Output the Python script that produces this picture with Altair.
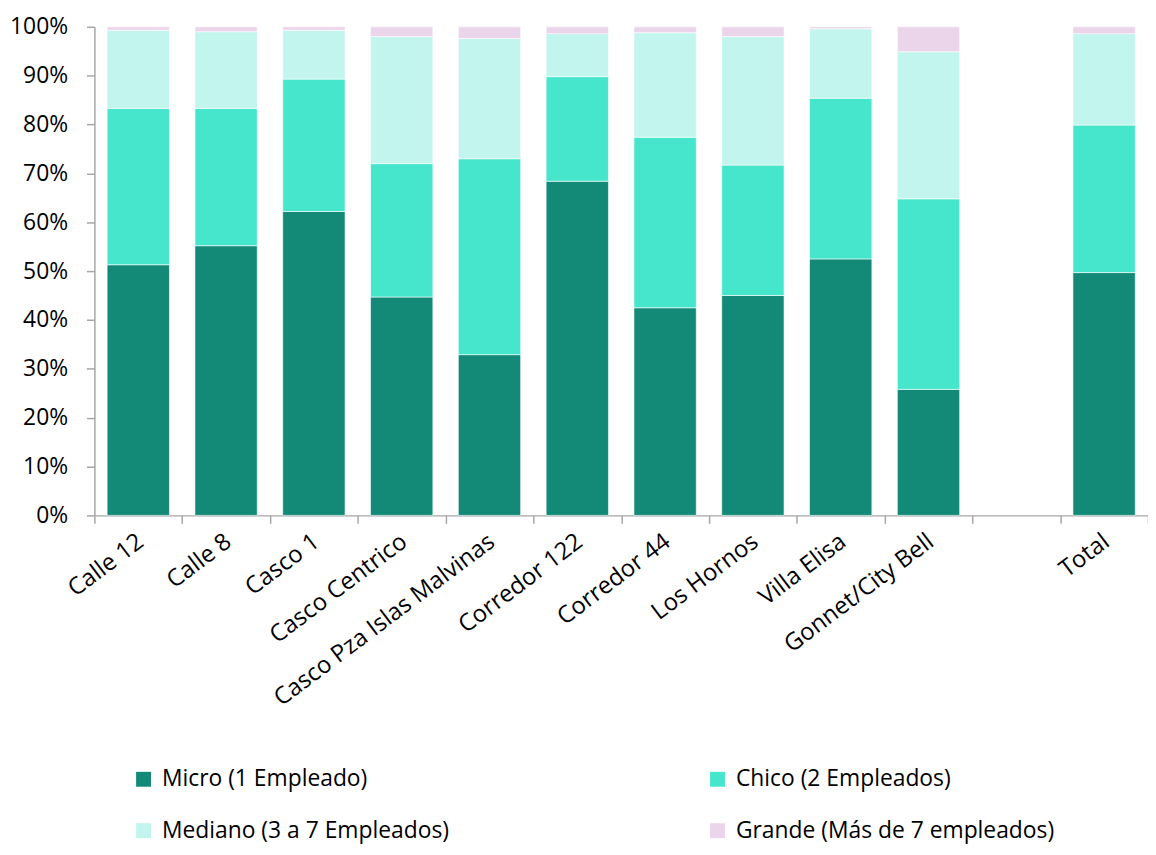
import altair as alt
import pandas as pd

categories = ["Calle 12", "Calle 8", "Casco 1", "Casco Centrico", "Casco Pza Islas Malvinas",
              "Corredor 122", "Corredor 44", "Los Hornos", "Villa Elisa", "Gonnet/City Bell", "Total"]
micro = [51.3, 55.2, 62.2, 44.7, 32.9, 68.4, 42.5, 45.0, 52.5, 25.8, 49.7]
chico = [32.0, 28.1, 27.1, 27.3, 40.1, 21.4, 34.9, 26.7, 32.9, 39.0, 30.2]
mediano = [16.0, 15.7, 10.0, 26.0, 24.6, 8.8, 21.4, 26.3, 14.2, 30.1, 18.7]
grande = [0.7, 1.0, 0.7, 2.0, 2.4, 1.4, 1.2, 2.0, 0.4, 5.1, 1.4]

series_names = ["Micro (1 Empleado)", "Chico (2 Empleados)",
                "Mediano (3 a 7 Empleados)", "Grande (Más de 7 empleados)"]
series_colors = ["#138a77", "#45e6cc", "#c2f5ee", "#ebd5ea"]
y_ticks = [0, 0.1, 0.2, 0.3, 0.4, 0.5, 0.6, 0.7, 0.8, 0.9, 1.0]

series_values = [micro, chico, mediano, grande]
rows = []
for i, cat in enumerate(categories):
    for j, name in enumerate(series_names):
        rows.append({"zona": cat, "tamano": name, "valor": series_values[j][i], "orden": j})
df = pd.DataFrame(rows)

x_domain = categories[:10] + [" "] + categories[10:]

# legend fills column by column: order so rows read Micro/Chico, Mediano/Grande
legend_order = [0, 2, 1, 3]
color_domain = [series_names[k] for k in legend_order]
color_range = [series_colors[k] for k in legend_order]

FONT = "Open Sans"
FS = 23
AXIS_COLOR = "#a6a6a6"

chart = alt.Chart(df).mark_bar(
    width=alt.RelativeBandSize(0.71), stroke="white", strokeWidth=0.6
).encode(
    x=alt.X("zona:N",
            scale=alt.Scale(domain=x_domain, paddingInner=0, paddingOuter=0),
            axis=alt.Axis(title=None, labelAngle=-37, labelFontSize=24, labelFont=FONT,
                          labelColor="black", tickBand="extent", tickSize=8,
                          domainColor=AXIS_COLOR, tickColor=AXIS_COLOR, domainWidth=1.5,
                          tickWidth=1.5, labelPadding=6, labelOffset=-5, labelLimit=600)),
    y=alt.Y("valor:Q", stack="normalize",
            scale=alt.Scale(domain=[0, 1], nice=False),
            axis=alt.Axis(title=None, values=y_ticks, format=".0%", grid=False,
                          labelFontSize=FS, labelFont=FONT, labelColor="black",
                          tickSize=8, labelPadding=19, domainColor=AXIS_COLOR,
                          tickColor=AXIS_COLOR, domainWidth=1.5, tickWidth=1.5)),
    color=alt.Color("tamano:N",
                    scale=alt.Scale(domain=color_domain, range=color_range),
                    legend=alt.Legend(title=None, orient="none", legendX=38, legendY=746,
                                      columns=2, columnPadding=258, rowPadding=28,
                                      symbolType="square", symbolSize=225,
                                      symbolStrokeWidth=0, labelFontSize=FS,
                                      labelFont=FONT, labelColor="black",
                                      labelLimit=500, labelOffset=7)),
    order=alt.Order("orden:Q", sort="ascending"),
).properties(
    width=1061, height=492,
    autosize=alt.AutoSizeParams(type="none"),
    padding={"left": 87, "top": 16, "right": 0, "bottom": 331},
).configure_view(strokeWidth=0)

chart.save("out.html", embed_options={"renderer": "svg", "actions": False})
